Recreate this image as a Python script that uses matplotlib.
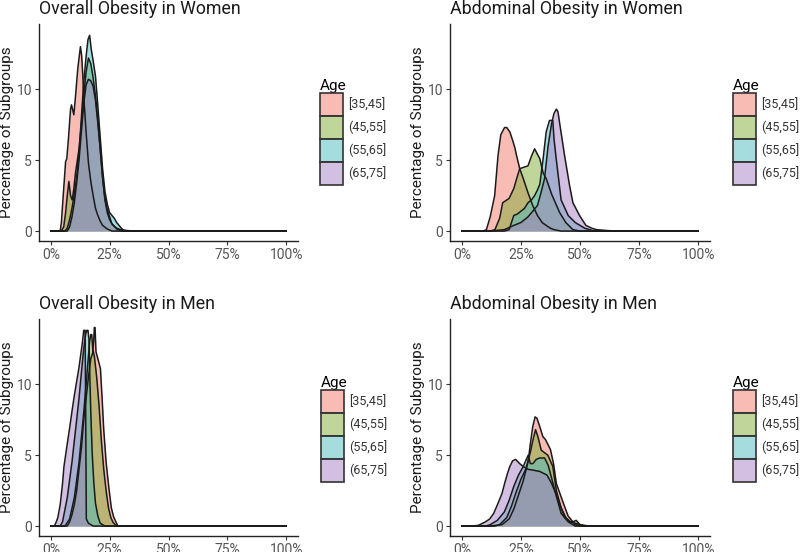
import numpy as np
import matplotlib
matplotlib.use("Agg")
import matplotlib.pyplot as plt
from matplotlib.patches import Patch
from matplotlib.colors import to_rgba

plt.rcParams['font.family'] = ['Roboto', 'DejaVu Sans']

ages = ['[35,45]', '(45,55]', '(55,65]', '(65,75]']
colors = ['#F37B6D', '#81AD37', '#4DBDBF', '#A781C5']
titles = ['Overall Obesity in Women', 'Abdominal Obesity in Women',
          'Overall Obesity in Men', 'Abdominal Obesity in Men']
x_ticks = [0, 0.25, 0.5, 0.75, 1.0]
x_tick_labels = ['0%', '25%', '50%', '75%', '100%']
y_ticks = [0, 5, 10]

# density curves (x = share, y = % of subgroups)
# overall obesity, women
ow_35_x = [0.04, 0.045, 0.055, 0.063, 0.068, 0.075, 0.084, 0.088, 0.098, 0.105, 0.115, 0.126, 0.131, 0.136,
           0.14, 0.15, 0.16, 0.17, 0.18, 0.19, 0.20, 0.21, 0.22, 0.24, 0.26]
ow_35_y = [0.0, 0.6, 3.0, 4.9, 5.1, 6.5, 8.6, 8.9, 8.2, 9.5, 11.5, 13.0, 12.4, 11.0,
           9.5, 7.0, 4.8, 3.5, 2.5, 1.6, 1.1, 0.7, 0.4, 0.15, 0.0]
ow_45_x = [0.045, 0.055, 0.063, 0.07, 0.077, 0.084, 0.091, 0.098, 0.105, 0.12, 0.13, 0.14, 0.15, 0.16,
           0.17, 0.18, 0.19, 0.20, 0.21, 0.22, 0.23, 0.24, 0.25, 0.26, 0.28, 0.30]
ow_45_y = [0.0, 0.3, 1.3, 2.5, 3.5, 2.5, 2.2, 3.0, 4.1, 5.8, 7.5, 9.5, 11.2, 12.2,
           11.8, 10.8, 9.5, 7.8, 5.8, 3.8, 2.3, 1.5, 1.0, 0.5, 0.15, 0.0]
ow_55_x = [0.06, 0.07, 0.08, 0.09, 0.10, 0.11, 0.12, 0.13, 0.14, 0.15, 0.158, 0.165, 0.172, 0.18,
           0.19, 0.20, 0.21, 0.22, 0.23, 0.24, 0.25, 0.26, 0.27, 0.28, 0.29, 0.30, 0.31, 0.33]
ow_55_y = [0.0, 0.2, 0.8, 1.6, 2.6, 3.8, 5.5, 8.0, 10.5, 12.3, 13.5, 13.8, 12.8, 12.0,
           10.9, 8.8, 6.6, 4.4, 2.8, 1.9, 1.3, 1.1, 0.9, 0.6, 0.4, 0.2, 0.05, 0.0]
ow_65_x = [0.07, 0.08, 0.09, 0.10, 0.11, 0.12, 0.13, 0.14, 0.15, 0.16, 0.17, 0.18, 0.19, 0.20,
           0.21, 0.22, 0.23, 0.24, 0.25, 0.26, 0.28, 0.30, 0.33, 0.36]
ow_65_y = [0.0, 0.3, 1.0, 2.0, 3.4, 5.0, 7.0, 9.0, 10.3, 10.7, 10.6, 10.2, 9.2, 7.6,
           5.8, 3.8, 2.2, 1.3, 0.8, 0.5, 0.2, 0.08, 0.03, 0.0]

# abdominal obesity, women
aw_35_x = [0.09, 0.104, 0.12, 0.139, 0.153, 0.165, 0.181, 0.19, 0.203, 0.215, 0.224, 0.232, 0.245,
           0.26, 0.28, 0.30, 0.32, 0.34, 0.357, 0.375, 0.39, 0.42]
aw_35_y = [0.0, 0.1, 1.0, 2.5, 5.3, 6.8, 7.3, 7.3, 7.0, 6.4, 5.9, 5.3, 4.4,
           3.7, 2.7, 1.8, 1.1, 0.6, 0.4, 0.2, 0.1, 0.0]
aw_45_x = [0.12, 0.14, 0.16, 0.173, 0.20, 0.22, 0.232, 0.245, 0.28, 0.295, 0.308, 0.33, 0.344, 0.357,
           0.38, 0.414, 0.44, 0.47, 0.50]
aw_45_y = [0.0, 0.1, 0.9, 2.0, 2.3, 3.0, 3.7, 4.4, 4.6, 5.3, 5.8, 5.1, 4.1, 3.7,
           2.6, 1.3, 0.6, 0.1, 0.0]
aw_55_x = [0.18, 0.20, 0.21, 0.22, 0.235, 0.25, 0.265, 0.28, 0.295, 0.308, 0.32, 0.33, 0.344, 0.357,
           0.371, 0.385, 0.39, 0.40, 0.42, 0.45, 0.48, 0.52, 0.56]
aw_55_y = [0.0, 0.1, 0.6, 1.1, 1.2, 1.4, 1.6, 2.0, 2.2, 2.5, 2.9, 3.3, 5.1, 7.0,
           7.8, 7.8, 6.5, 5.0, 2.2, 1.1, 0.6, 0.2, 0.0]
aw_65_x = [0.12, 0.18, 0.22, 0.25, 0.28, 0.30, 0.32, 0.335, 0.35, 0.365, 0.38, 0.39, 0.40, 0.407,
           0.414, 0.435, 0.456, 0.47, 0.498, 0.525, 0.55, 0.57, 0.62, 0.66]
aw_65_y = [0.0, 0.1, 0.4, 0.6, 1.0, 1.4, 1.8, 2.7, 3.7, 6.0, 7.6, 8.3, 8.6, 8.4,
           7.6, 5.3, 3.2, 2.0, 1.1, 0.4, 0.2, 0.1, 0.03, 0.0]

# overall obesity, men
om_35_x = [0.07, 0.08, 0.09, 0.10, 0.11, 0.12, 0.13, 0.14, 0.15, 0.16, 0.17, 0.178, 0.182, 0.185,
           0.188, 0.192, 0.20, 0.211, 0.218, 0.225, 0.235, 0.246, 0.257, 0.267, 0.285]
om_35_y = [0.0, 0.3, 0.8, 1.5, 2.5, 4.0, 5.5, 7.5, 9.0, 10.5, 11.8, 12.2, 13.0, 14.0,
           14.0, 12.3, 11.8, 11.1, 9.0, 6.8, 4.5, 2.8, 1.3, 0.65, 0.0]
om_45_x = [0.06, 0.08, 0.10, 0.12, 0.14, 0.155, 0.165, 0.17, 0.174, 0.178, 0.185, 0.195, 0.205, 0.215,
           0.225, 0.235, 0.245, 0.255, 0.265, 0.28]
om_45_y = [0.0, 0.5, 2.0, 4.5, 8.0, 11.0, 13.0, 13.5, 13.5, 12.5, 12.0, 10.5, 8.5, 6.0,
           4.0, 2.5, 1.3, 0.6, 0.25, 0.0]
om_55_x = [0.04, 0.05, 0.07, 0.09, 0.10, 0.11, 0.12, 0.13, 0.14, 0.148, 0.153, 0.158, 0.162, 0.166,
           0.17, 0.176, 0.183, 0.19, 0.20, 0.21, 0.23]
om_55_y = [0.0, 0.3, 2.0, 4.5, 6.0, 7.5, 9.0, 10.8, 12.5, 13.5, 13.8, 13.8, 13.2, 10.5,
           8.0, 5.1, 3.0, 1.6, 0.7, 0.2, 0.0]
om_65_x = [0.015, 0.021, 0.03, 0.04, 0.05, 0.056, 0.07, 0.08, 0.091, 0.10, 0.11, 0.12, 0.134, 0.14,
           0.146, 0.149, 0.151, 0.16, 0.18]
om_65_y = [0.0, 0.2, 0.6, 1.5, 3.0, 4.2, 5.8, 6.9, 8.2, 9.2, 10.2, 11.2, 12.9, 13.8,
           13.8, 6.0, 0.5, 0.2, 0.0]

# abdominal obesity, men
am_35_x = [0.12, 0.17, 0.20, 0.22, 0.24, 0.26, 0.28, 0.29, 0.30, 0.31, 0.318, 0.33, 0.343, 0.354,
           0.375, 0.388, 0.40, 0.43, 0.45, 0.48, 0.51]
am_35_y = [0.0, 0.1, 0.5, 1.2, 2.2, 3.2, 4.5, 5.8, 7.0, 7.7, 7.6, 7.0, 6.3, 6.1,
           5.4, 4.4, 3.0, 1.6, 0.7, 0.1, 0.0]
am_45_x = [0.14, 0.16, 0.19, 0.21, 0.23, 0.25, 0.27, 0.29, 0.30, 0.312, 0.322, 0.336, 0.364, 0.385,
           0.40, 0.42, 0.435, 0.455, 0.47, 0.484, 0.50, 0.52]
am_45_y = [0.0, 0.1, 0.6, 1.4, 2.4, 3.3, 4.0, 5.2, 6.0, 6.8, 6.3, 5.35, 5.0, 4.2,
           2.5, 1.3, 0.6, 0.3, 0.3, 0.4, 0.1, 0.0]
am_55_x = [0.10, 0.12, 0.15, 0.18, 0.20, 0.22, 0.24, 0.26, 0.27, 0.281, 0.29, 0.30, 0.315, 0.329,
           0.35, 0.365, 0.378, 0.40, 0.42, 0.45, 0.48]
am_55_y = [0.0, 0.1, 0.4, 1.0, 1.8, 2.8, 3.6, 4.2, 4.6, 5.0, 4.4, 4.4, 4.7, 4.8,
           4.8, 4.3, 3.5, 2.1, 0.9, 0.3, 0.0]
am_65_x = [0.04, 0.07, 0.10, 0.118, 0.135, 0.153, 0.17, 0.181, 0.193, 0.203, 0.215, 0.228, 0.245, 0.26,
           0.28, 0.30, 0.33, 0.36, 0.38, 0.40, 0.42, 0.44, 0.46, 0.50, 0.54]
am_65_y = [0.0, 0.05, 0.3, 0.5, 0.9, 1.6, 2.3, 3.0, 3.7, 4.2, 4.6, 4.7, 4.4, 4.2,
           4.0, 3.95, 3.85, 3.6, 3.0, 2.2, 1.3, 0.6, 0.3, 0.1, 0.0]

panel_curves = [
    [(ow_35_x, ow_35_y), (ow_45_x, ow_45_y), (ow_55_x, ow_55_y), (ow_65_x, ow_65_y)],
    [(aw_35_x, aw_35_y), (aw_45_x, aw_45_y), (aw_55_x, aw_55_y), (aw_65_x, aw_65_y)],
    [(om_35_x, om_35_y), (om_45_x, om_45_y), (om_55_x, om_55_y), (om_65_x, om_65_y)],
    [(am_35_x, am_35_y), (am_45_x, am_45_y), (am_55_x, am_55_y), (am_65_x, am_65_y)],
]

W, H = 800, 552
fig = plt.figure(figsize=(W / 100, H / 100), dpi=100)

# axes boxes in pixels: left, top, right, bottom
boxes = [(39, 24, 298, 241), (450, 24, 710, 241), (39, 319, 298, 536), (450, 319, 710, 536)]
legend_pos = [(320, 79), (733, 79), (321, 376), (733, 376)]

handles = [Patch(facecolor=to_rgba(c, 0.5), edgecolor='#333333', linewidth=1.2) for c in colors]

for k in range(4):
    l, t, r, b = boxes[k]
    ax = fig.add_axes([l / W, 1 - b / H, (r - l) / W, (b - t) / H])
    for i, (xs, ys) in enumerate(panel_curves[k]):
        x = np.r_[0.0, xs, 1.0]
        y = np.r_[0.0, ys, 0.0]
        ax.fill_between(x, y, color=to_rgba(colors[i], 0.5), linewidth=0)
        ax.plot(x, y, color='#1a1a1a', lw=1.1, solid_joinstyle='round')
    ax.set_xlim(-0.05, 1.05)
    ax.set_ylim(-0.7, 14.6)
    ax.set_xticks(x_ticks)
    ax.set_xticklabels(x_tick_labels)
    ax.set_yticks(y_ticks)
    for s in ['top', 'right']:
        ax.spines[s].set_visible(False)
    for s in ['left', 'bottom']:
        ax.spines[s].set_color('#222222')
        ax.spines[s].set_linewidth(1.0)
    ax.tick_params(length=3, width=0.8, color='#333333', labelcolor='#555555', labelsize=10, pad=2)
    ax.set_ylabel('Percentage of Subgroups', fontsize=11, color='#1a1a1a', labelpad=2)
    ax.set_title(titles[k], loc='left', fontsize=12.8, color='#1a1a1a', pad=7)
    lx, ly = legend_pos[k]
    ax.legend(handles, ages, title='Age', loc='upper left',
              bbox_to_anchor=(lx / W, 1 - ly / H), bbox_transform=fig.transFigure,
              frameon=False, fontsize=9, title_fontsize=11, handlelength=1.8, handleheight=2.45,
              labelspacing=0.0, handletextpad=0.45, borderpad=0, borderaxespad=0,
              alignment='left', labelcolor='#333333')

fig.savefig('out.png', dpi=100)
